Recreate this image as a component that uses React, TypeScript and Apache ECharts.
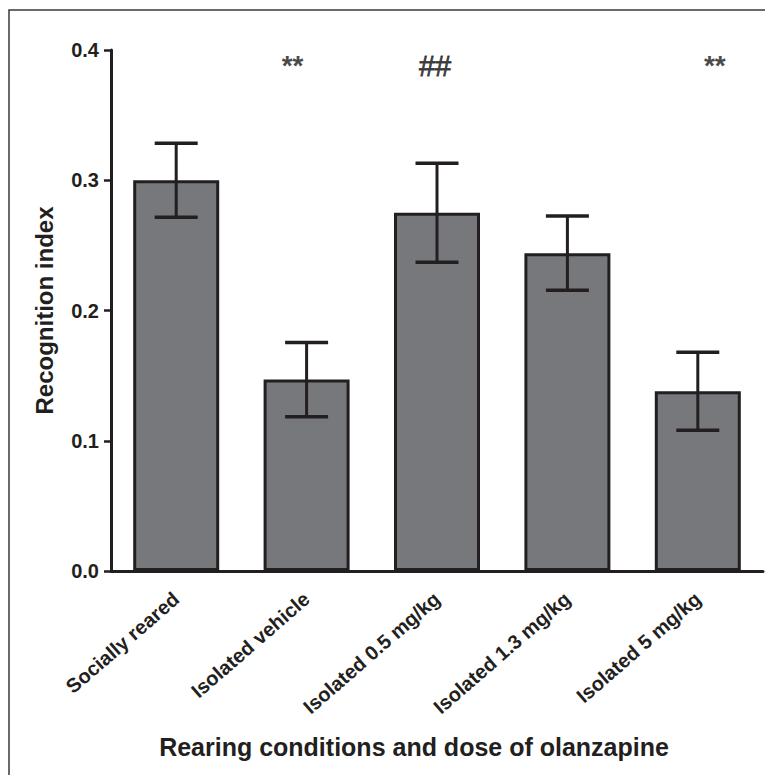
import React, { useEffect, useRef } from "react";
import * as echarts from "echarts";

const categories = [
  "Socially reared",
  "Isolated vehicle",
  "Isolated 0.5 mg/kg",
  "Isolated 1.3 mg/kg",
  "Isolated 5 mg/kg",
];
const means = [0.3, 0.147, 0.275, 0.244, 0.138];
const sems = [0.0285, 0.0285, 0.038, 0.0285, 0.03];
const annotations = ["", "**", "##", "", "**"];
const annotationLevel = 0.39;
const yTicks = [0, 0.1, 0.2, 0.3, 0.4];

const INK = "#231f20";
const FONT = "'Liberation Sans', Arial, Helvetica, sans-serif";

export default function App() {
  const ref = useRef<HTMLDivElement>(null);

  useEffect(() => {
    document.body.style.margin = "0";
    if (!ref.current) return;
    const chart = echarts.init(ref.current, null, { renderer: "svg" });

    const errData = categories.map((_, i) => [i, means[i] + sems[i], means[i] - sems[i]]);
    const annData = annotations
      .map((t, i) => ({ t, i }))
      .filter((d) => d.t !== "")
      .map((d) => ({
        value: [d.i, annotationLevel],
        label: {
          formatter: d.t,
          fontWeight: d.t === "##" ? "normal" : "bold",
          fontSize: d.t === "##" ? 29 : 28,
          textBorderColor: d.t === "##" ? "#1a1718" : "transparent",
          textBorderWidth: d.t === "##" ? 0.8 : 0,
          offset: d.t === "**" ? (d.i === 1 ? [-14, 2] : [17, 2]) : [-2, 3],
        },
      }));

    chart.setOption({
      animation: false,
      backgroundColor: "#ffffff",
      graphic: [
        {
          type: "rect",
          shape: { x: 9, y: 10, width: 820, height: 820 },
          style: { fill: "none", stroke: "#3a3a3a", lineWidth: 1.5 },
          z: -1,
        },
        {
          type: "text",
          x: 414,
          y: 747,
          style: {
            text: "Rearing conditions and dose of olanzapine",
            font: `bold 25px ${FONT}`,
            fill: INK,
            textAlign: "center",
            textVerticalAlign: "middle",
          },
        },
      ],
      grid: { left: 111, right: 2, top: 50, bottom: 204, containLabel: false },
      xAxis: {
        type: "category",
        data: categories,
        boundaryGap: true,
        axisLine: { lineStyle: { color: INK, width: 3 } },
        axisTick: { alignWithLabel: true, length: 7, lineStyle: { color: INK, width: 2.5 } },
        axisLabel: {
          rotate: 41,
          margin: 25,
          interval: 0,
          color: INK,
          fontFamily: FONT,
          fontWeight: "bold",
          fontSize: 20,
        },
      },
      yAxis: {
        type: "value",
        min: 0,
        max: 0.4,
        interval: 0.1,
        name: "Recognition index",
        nameLocation: "middle",
        nameGap: 55,
        nameTextStyle: { color: INK, fontFamily: FONT, fontWeight: "bold", fontSize: 24 },
        splitLine: { show: false },
        axisLine: { show: true, lineStyle: { color: INK, width: 3 } },
        axisTick: { show: true, length: 7, lineStyle: { color: INK, width: 2.5 } },
        axisLabel: {
          margin: 12,
          color: INK,
          fontFamily: FONT,
          fontWeight: "bold",
          fontSize: 20,
          formatter: (v: number) => (yTicks.includes(Math.round(v * 10) / 10) ? v.toFixed(1) : ""),
        },
      },
      series: [
        {
          type: "bar",
          data: means,
          barWidth: 86,
          itemStyle: { color: "#77787c", borderColor: INK, borderWidth: 3 },
          z: 2,
        },
        {
          type: "custom",
          data: errData,
          z: 3,
          renderItem: (params: any, api: any) => {
            const x = api.value(0);
            const hi = api.coord([x, api.value(1)]);
            const lo = api.coord([x, api.value(2)]);
            const hw = 21.5;
            const style = { stroke: INK, lineWidth: 3.5 };
            return {
              type: "group",
              children: [
                { type: "line", shape: { x1: hi[0], y1: hi[1], x2: lo[0], y2: lo[1] }, style: { stroke: INK, lineWidth: 3 } },
                { type: "line", shape: { x1: hi[0] - hw, y1: hi[1], x2: hi[0] + hw, y2: hi[1] }, style },
                { type: "line", shape: { x1: lo[0] - hw, y1: lo[1], x2: lo[0] + hw, y2: lo[1] }, style },
              ],
            };
          },
        },
        {
          type: "scatter",
          data: annData,
          symbolSize: 0,
          silent: true,
          label: {
            show: true,
            position: "inside",
            color: "#1a1718",
            fontFamily: FONT,
          },
        },
      ],
    });

    return () => chart.dispose();
  }, []);

  return <div ref={ref} style={{ width: 765, height: 775 }} />;
}
